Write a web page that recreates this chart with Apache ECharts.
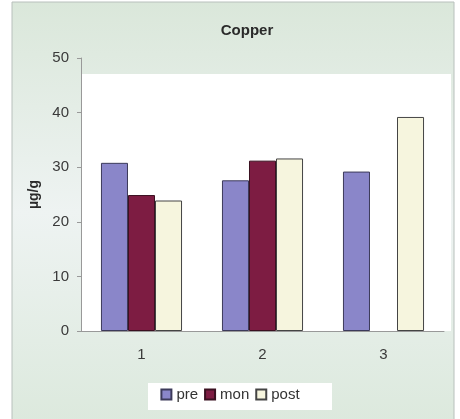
<!DOCTYPE html>
<html><head><meta charset="utf-8">
<script src="https://cdn.jsdelivr.net/npm/echarts@6/dist/echarts.min.js"></script>
<style>html,body{margin:0;padding:0;background:#fff}#c{width:460px;height:419px}</style>
</head><body><div id="c"></div>
<script>
var categories = ['1', '2', '3'];
var preValues = [30.8, 27.6, 29.2];
var monValues = [24.9, 31.2, null];
var postValues = [23.9, 31.6, 39.2];
var yTicks = [0, 10, 20, 30, 40, 50];

var chart = echarts.init(document.getElementById('c'));
var lbl = {color: '#3a3a3a', fontSize: 15, fontFamily: 'Liberation Sans, Arial, sans-serif'};
chart.setOption({
  animation: false,
  graphic: [
    {type: 'rect', z: -10, shape: {x: 12, y: 2, width: 442, height: 420},
     style: {fill: {type: 'linear', x: 0, y: 0, x2: 0, y2: 1, colorStops: [
       {offset: 0, color: '#dae7da'}, {offset: 0.5, color: '#eef3f2'}, {offset: 1, color: '#dce9dd'}]},
       stroke: '#b8c0bc', lineWidth: 1}},
    {type: 'rect', z: -9, shape: {x: 81, y: 74, width: 370, height: 257},
     style: {fill: '#ffffff'}},
    {type: 'rect', z: -8, shape: {x: 148, y: 383, width: 184, height: 27},
     style: {fill: '#ffffff'}}
  ],
  title: {text: 'Copper', left: 242, top: 18, textAlign: 'center',
    textStyle: {fontSize: 15, fontWeight: 'bold', color: '#2a2a2a', fontFamily: 'Liberation Sans, Arial, sans-serif'}},
  legend: {bottom: 12, left: 'center', itemWidth: 10, itemHeight: 10, itemGap: 6,
    icon: 'rect',
    textStyle: {fontSize: 15, color: '#333', fontFamily: 'Liberation Sans, Arial, sans-serif'},
    data: ['pre', 'mon', 'post']},
  grid: {left: 81, right: 16, top: 58, bottom: 88},
  xAxis: {type: 'category', data: categories,
    axisLine: {lineStyle: {color: '#999'}}, axisTick: {show: false},
    axisLabel: Object.assign({margin: 16}, lbl)},
  yAxis: {type: 'value', min: 0, max: 50, interval: 10,
    name: 'µg/g', nameLocation: 'middle', nameRotate: 90, nameGap: 38,
    nameTextStyle: {fontSize: 14, fontWeight: 'bold', color: '#2a2a2a', fontFamily: 'Liberation Sans, Arial, sans-serif'},
    axisLine: {show: true, lineStyle: {color: '#999'}},
    axisTick: {show: true, length: 4, lineStyle: {color: '#999'}},
    splitLine: {show: false},
    axisLabel: Object.assign({margin: 12, formatter: function(v){ return yTicks.indexOf(v) >= 0 ? String(v) : ''; }}, lbl)},
  series: [
    {name: 'pre', type: 'bar', data: preValues, barGap: '0%', barCategoryGap: '33%',
     itemStyle: {color: '#8a86c9', borderColor: '#3c3a5a', borderWidth: 1}},
    {name: 'mon', type: 'bar', data: monValues,
     itemStyle: {color: '#7d1c42', borderColor: '#3a1020', borderWidth: 1}},
    {name: 'post', type: 'bar', data: postValues,
     itemStyle: {color: '#f6f5de', borderColor: '#444', borderWidth: 1}}
  ]
});
</script></body></html>
